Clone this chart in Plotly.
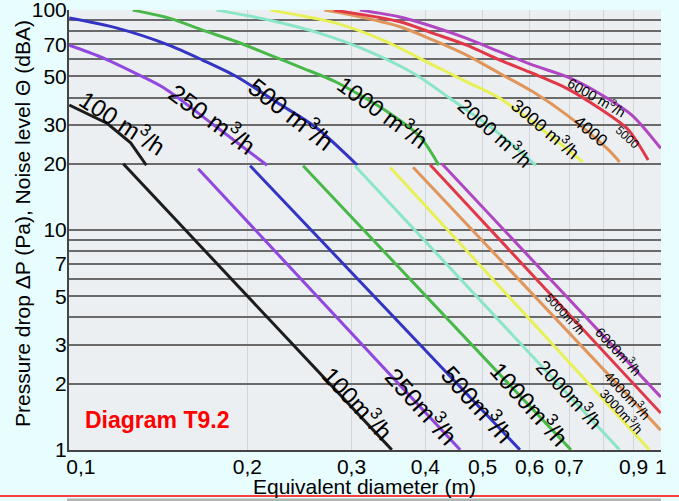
import plotly.graph_objects as go

# ---------------- data ----------------
flow_labels = ["100", "250", "500", "1000", "2000", "3000", "4000", "5000", "6000"]
colors = ["#1c1c1c", "#9048e0", "#3434c4", "#48b848", "#8ae6c6",
          "#e8f058", "#e0955a", "#e03848", "#b046c2"]

# Noise level curves (dBA) vs equivalent diameter (m)
n100_d = [0.100, 0.107, 0.116, 0.127, 0.135]
n100_v = [37.0, 33.9, 30.5, 24.9, 19.7]
n250_d = [0.100, 0.113, 0.128, 0.144, 0.1765, 0.216]
n250_v = [69.3, 61.3, 52.4, 44.6, 29.7, 19.7]
n500_d = [0.100, 0.1205, 0.147, 0.168, 0.192, 0.2246, 0.262, 0.307]
n500_v = [92.0, 82.8, 69.5, 59.3, 49.8, 38.0, 29.1, 19.7]
n1000_d = [0.128, 0.148, 0.168, 0.192, 0.2185, 0.2485, 0.283, 0.345, 0.392, 0.4216]
n1000_v = [100.0, 91.7, 81.1, 71.8, 62.4, 54.4, 47.0, 34.5, 26.5, 19.7]
n2000_d = [0.1775, 0.2185, 0.2655, 0.3225, 0.3867, 0.44, 0.526, 0.615]
n2000_v = [100.0, 90.0, 78.4, 64.6, 50.6, 39.7, 28.2, 19.7]
n3000_d = [0.2186, 0.2834, 0.3441, 0.4125, 0.4698, 0.5346, 0.632, 0.738]
n3000_v = [100.0, 87.0, 71.8, 56.2, 47.2, 39.7, 28.5, 20.4]
n4000_d = [0.27, 0.30, 0.3624, 0.4125, 0.4698, 0.5346, 0.608, 0.6934, 0.811, 0.852]
n4000_v = [100.0, 95.0, 84.0, 73.0, 62.4, 51.5, 42.5, 33.4, 23.5, 20.4]
n5000_d = [0.28, 0.3624, 0.4125, 0.4698, 0.5346, 0.608, 0.6934, 0.7872, 0.8768, 0.9196, 0.952]
n5000_v = [100.0, 88.5, 78.4, 69.3, 59.3, 51.5, 44.1, 35.8, 29.0, 24.3, 20.8]
n6000_d = [0.31, 0.3624, 0.4125, 0.4698, 0.5346, 0.608, 0.6934, 0.7872, 0.8925, 1.0]
n6000_v = [100.0, 93.0, 84.0, 74.4, 64.6, 56.2, 49.8, 41.8, 33.4, 23.5]

noise_d = [n100_d, n250_d, n500_d, n1000_d, n2000_d, n3000_d, n4000_d, n5000_d, n6000_d]
noise_v = [n100_v, n250_v, n500_v, n1000_v, n2000_v, n3000_v, n4000_v, n5000_v, n6000_v]

# Pressure drop lines (Pa): start and end points
p_d_top = [0.1234, 0.1652, 0.2022, 0.2485, 0.304, 0.3486, 0.3813, 0.4074, 0.4266]
p_v_top = [20.0, 19.0, 19.6, 19.6, 19.6, 19.3, 19.3, 19.8, 20.0]
p_d_bot = [0.351, 0.458, 0.578, 0.705, 0.852, 0.957, 1.0, 1.0, 1.0]
p_v_bot = [1.0, 1.0, 1.0, 1.0, 1.0, 1.0, 1.23, 1.47, 1.74]

x_tickvals = [0.1, 0.2, 0.3, 0.4, 0.5, 0.6, 0.7, 0.8, 0.9, 1.0]
x_ticktext = ["\u00a0\u00a0\u00a0\u00a00,1", "0,2", "0,3", "0,4", "0,5", "0,6", "0,7", "", "0,9", "1"]
y_tickvals = [1, 2, 3, 4, 5, 6, 7, 8, 9, 10, 20, 30, 40, 50, 60, 70, 80, 90, 100]
y_ticktext = ["1", "2", "3", "", "5", "", "7", "", "", "10", "20", "30", "", "50", "", "70", "", "", "100"]

# ---------------- layout geometry ----------------
W, H = 679, 501
L, R, T, B = 69, 18, 10, 51
PW, PH = W - L - R, H - T - B
BG = "#e8fdfd"


def pp(x, y):
    """pixel -> paper coordinates"""
    return (x - L) / PW, (T + PH - y) / PH


FONT = "Liberation Sans, Arial, Helvetica, sans-serif"

fig = go.Figure()

for i in range(len(flow_labels)):
    fig.add_trace(go.Scatter(
        x=noise_d[i], y=noise_v[i], mode="lines",
        line=dict(color=colors[i], width=3,
                  shape="linear" if i == 0 else "spline", smoothing=0.8),
        hoverinfo="skip", showlegend=False))
    fig.add_trace(go.Scatter(
        x=[p_d_top[i], p_d_bot[i]], y=[p_v_top[i], p_v_bot[i]], mode="lines",
        line=dict(color=colors[i], width=3),
        hoverinfo="skip", showlegend=False))


def label(txt, x, y, ang=0, size=21, color="black"):
    ax, ay = pp(x, y)
    fig.add_annotation(x=ax, y=ay, xref="paper", yref="paper", text=txt,
                       xanchor="center", yanchor="middle",
                       showarrow=False, textangle=ang,
                       font=dict(family=FONT, size=size, color=color))


# curve labels: (text, px x, px y, angle, size)
labels = [
    ("100 m<sup>3</sup>/h", 123, 122, 33, 24),
    ("250 m<sup>3</sup>/h", 213, 118, 36, 25),
    ("500 m<sup>3</sup>/h", 292, 113, 38, 25),
    ("1000 m<sup>3</sup>/h", 383, 111, 36, 23),
    ("2000 m<sup>3</sup>/h", 496, 131, 42, 20),
    ("3000 m<sup>3</sup>/h", 546, 128, 40, 18),
    ("4000", 591, 131, 40, 17),
    ("6000 m<sup>3</sup>/h", 597, 97, 30, 14),
    ("5000", 627, 137, 42, 12),
    ("100m<sup>3</sup>/h", 358, 402, 47, 24),
    ("250m<sup>3</sup>/h", 422, 405, 48, 25),
    ("500m<sup>3</sup>/h", 478, 403, 48, 25),
    ("1000m<sup>3</sup>/h", 530, 403, 48, 24),
    ("2000m<sup>3</sup>/h", 571, 393, 47, 20),
    ("3000m<sup>3</sup>/h", 622, 411, 47, 13),
    ("4000m<sup>3</sup>/h", 628, 395, 47, 14),
    ("5000m<sup>3</sup>/h", 565, 313, 47, 12),
    ("6000m<sup>3</sup>/h", 619, 351, 47, 14),
]
for txt, x, y, ang, sz in labels:
    label(txt, x, y, ang, sz)

label("<b>Diagram T9.2</b>", 157, 420, 0, 23, "#ff0000")
label("Pressure drop ΔP (Pa), Noise level Θ (dBA)", 22, 224, -90, 21)
label("Equivalent diameter (m)", 364, 486, 0, 21)

# bottom red rule and strip of next figure
x0, _ = pp(0, 0)
x1, _ = pp(W, 0)
_, yr = pp(0, 496)
fig.add_shape(type="line", xref="paper", yref="paper", x0=x0, x1=x1, y0=yr, y1=yr,
              line=dict(color="#ff0000", width=1.5))
sx0, sy0 = pp(67, 502)
sx1, sy1 = pp(661, 498.5)
fig.add_shape(type="rect", xref="paper", yref="paper", x0=sx0, x1=sx1, y0=sy0, y1=sy1,
              line=dict(width=0), fillcolor="#b4b4b4")

fig.update_layout(
    width=W, height=H,
    margin=dict(l=L, r=R, t=T, b=B, autoexpand=False),
    paper_bgcolor=BG,
    plot_bgcolor="#eceff1",
    showlegend=False,
    font=dict(family=FONT, size=21, color="black"),
    xaxis=dict(type="log", range=[-1.0004, 0.0004], tickmode="array",
               tickvals=x_tickvals, ticktext=x_ticktext,
               showgrid=True, gridcolor="#d2d6da", gridwidth=1,
               showline=True, linecolor="#444444", linewidth=2,
               ticks="", zeroline=False, ticklabelstandoff=-3,
               ticklabeloverflow="allow",
               tickfont=dict(family=FONT, size=21, color="black")),
    yaxis=dict(type="log", range=[-0.0006, 2.0006], tickmode="array",
               tickvals=y_tickvals, ticktext=y_ticktext,
               showgrid=True, gridcolor="#6a6a6a", gridwidth=2,
               showline=True, linecolor="#444444", linewidth=2,
               ticks="", zeroline=False, ticklabelstandoff=-4,
               ticklabeloverflow="allow",
               tickfont=dict(family=FONT, size=21, color="black")),
)

fig.write_html(
    "out.html",
    config={"displayModeBar": False},
    post_script="document.body.style.margin='0px';document.body.style.padding='0px';"
                "document.body.style.background='" + BG + "';"
                "document.documentElement.style.background='" + BG + "';",
)
